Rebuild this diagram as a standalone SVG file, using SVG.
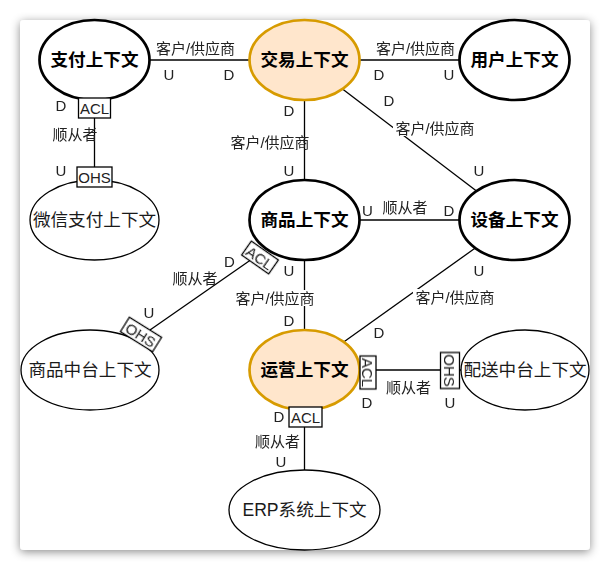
<svg xmlns="http://www.w3.org/2000/svg" width="611" height="571" viewBox="0 0 611 571">
  <defs>
    <filter id="cardShadow" x="-10%" y="-10%" width="120%" height="120%">
      <feDropShadow dx="0" dy="2" stdDeviation="5" flood-color="#000" flood-opacity="0.45"/>
    </filter>
  </defs>
  <style>
    text { text-anchor: middle; dominant-baseline: central; font-family: "Liberation Sans", "Noto Sans CJK SC", sans-serif; }
    .core { fill: #ffffff; stroke: #000000; stroke-width: 2.7; }
    .hot { fill: #ffe6cc; stroke: #d79b00; stroke-width: 2.7; }
    .ext { fill: #ffffff; stroke: #000000; stroke-width: 1.3; }
    .title { font-size: 17.6px; font-weight: bold; fill: #000000; }
    .name { font-size: 17.6px; fill: #1a1a1a; }
    .edge { stroke: #000000; stroke-width: 1.3; fill: none; }
    .box { fill: #ffffff; stroke: #000000; stroke-width: 1.3; }
    .lbl { font-size: 15px; fill: #222222; }
    .bg { fill: #ffffff; }
    .flat { opacity: 0.999; }
  </style>

  <!-- page -->
  <rect x="0" y="0" width="611" height="571" fill="#ffffff"/>
  <rect x="20" y="20" width="570" height="530" rx="4" fill="#ffffff" filter="url(#cardShadow)"/>

  <!-- connectors and their role labels -->
  <g id="connectors" class="flat">
    <line class="edge" x1="149" y1="60" x2="250" y2="60"/>
    <line class="edge" x1="359" y1="60" x2="460" y2="60"/>
    <line class="edge" x1="94.5" y1="100" x2="94.5" y2="180"/>
    <line class="edge" x1="304.5" y1="100" x2="304.5" y2="180"/>
    <line class="edge" x1="342.5" y1="88.9" x2="476.5" y2="191.1"/>
    <line class="edge" x1="359" y1="220" x2="460" y2="220"/>
    <line class="edge" x1="304.5" y1="260" x2="304.5" y2="330"/>
    <line class="edge" x1="475.3" y1="248" x2="343.7" y2="342"/>
    <line class="edge" x1="150" y1="330" x2="252" y2="259"/>
    <line class="edge" x1="358" y1="370" x2="462" y2="370"/>
    <line class="edge" x1="304.5" y1="410" x2="304.5" y2="470"/>

    <!-- 支付 - 交易 -->
    <text class="lbl" x="195.5" y="48">客户/供应商</text>
    <text class="lbl" x="169" y="74">U</text>
    <text class="lbl" x="229" y="74">D</text>

    <!-- 交易 - 用户 -->
    <text class="lbl" x="415.5" y="48">客户/供应商</text>
    <text class="lbl" x="379" y="74">D</text>
    <text class="lbl" x="449" y="74">U</text>

    <!-- 支付 - 微信支付 -->
    <text class="lbl" x="61" y="105">D</text>
    <text class="lbl" x="75" y="134">顺从者</text>
    <text class="lbl" x="61" y="170">U</text>

    <!-- 交易 - 商品 -->
    <text class="lbl" x="289" y="110.5">D</text>
    <text class="lbl" x="270" y="142">客户/供应商</text>
    <text class="lbl" x="289" y="170">U</text>

    <!-- 交易 - 设备 -->
    <text class="lbl" x="389" y="100">D</text>
    <rect class="bg" x="393" y="120" width="84" height="16"/>
    <text class="lbl" x="435" y="128">客户/供应商</text>
    <text class="lbl" x="479" y="170">U</text>

    <!-- 商品 - 设备 -->
    <text class="lbl" x="367.5" y="210">U</text>
    <text class="lbl" x="405" y="207.5">顺从者</text>
    <text class="lbl" x="449" y="210">D</text>

    <!-- 商品 - 运营 -->
    <text class="lbl" x="289" y="270">U</text>
    <rect class="bg" x="233" y="290" width="84" height="16"/>
    <text class="lbl" x="275" y="298">客户/供应商</text>
    <text class="lbl" x="289" y="320">D</text>

    <!-- 设备 - 运营 -->
    <text class="lbl" x="479" y="270">U</text>
    <rect class="bg" x="413" y="289" width="84" height="16"/>
    <text class="lbl" x="455" y="297">客户/供应商</text>
    <text class="lbl" x="379" y="332">D</text>

    <!-- 商品 - 商品中台 -->
    <text class="lbl" x="229.5" y="261">D</text>
    <text class="lbl" x="195" y="278">顺从者</text>
    <text class="lbl" x="149" y="312">U</text>

    <!-- 运营 - 配送中台 -->
    <text class="lbl" x="408.5" y="387">顺从者</text>
    <text class="lbl" x="367" y="402">D</text>
    <text class="lbl" x="450" y="402">U</text>

    <!-- 运营 - ERP -->
    <text class="lbl" x="279" y="416">D</text>
    <text class="lbl" x="277.5" y="441">顺从者</text>
    <text class="lbl" x="281" y="461">U</text>
  </g>

  <!-- bounded contexts -->
  <g id="node-payment">
    <ellipse class="core" cx="94.5" cy="60" rx="55" ry="40"/>
    <text class="title" x="94.5" y="60">支付上下文</text>
  </g>
  <g id="node-trade">
    <ellipse class="hot" cx="304.5" cy="60" rx="55" ry="40"/>
    <text class="title" x="304.5" y="60">交易上下文</text>
  </g>
  <g id="node-user">
    <ellipse class="core" cx="514.5" cy="60" rx="55" ry="40"/>
    <text class="title" x="514.5" y="60">用户上下文</text>
  </g>
  <g id="node-wechat-pay">
    <ellipse class="ext" cx="94.5" cy="220" rx="64.5" ry="40"/>
    <text class="name" x="94.5" y="220">微信支付上下文</text>
  </g>
  <g id="node-product">
    <ellipse class="core" cx="304.5" cy="220" rx="55" ry="40"/>
    <text class="title" x="304.5" y="220">商品上下文</text>
  </g>
  <g id="node-device">
    <ellipse class="core" cx="514.5" cy="220" rx="55" ry="40"/>
    <text class="title" x="514.5" y="220">设备上下文</text>
  </g>
  <g id="node-product-platform">
    <ellipse class="ext" cx="90" cy="370" rx="69" ry="40"/>
    <text class="name" x="90" y="370">商品中台上下文</text>
  </g>
  <g id="node-operation">
    <ellipse class="hot" cx="304.5" cy="370" rx="55" ry="40"/>
    <text class="title" x="304.5" y="370">运营上下文</text>
  </g>
  <g id="node-delivery-platform">
    <ellipse class="ext" cx="525" cy="370" rx="64" ry="40"/>
    <text class="name" x="525" y="370">配送中台上下文</text>
  </g>
  <g id="node-erp">
    <ellipse class="ext" cx="304.5" cy="510" rx="75.5" ry="40"/>
    <text class="name" x="304.5" y="510">ERP系统上下文</text>
  </g>

  <!-- ACL / OHS adapters drawn over the context borders -->
  <g id="adapters" class="flat">
    <rect class="box" x="78.5" y="98" width="32" height="20"/>
    <text class="lbl" x="94.5" y="108">ACL</text>
    <rect class="box" x="77" y="167" width="35" height="20"/>
    <text class="lbl" x="94.5" y="177">OHS</text>
    <g transform="translate(260 257.5) rotate(35)">
      <rect class="box" x="-16.5" y="-8.5" width="33" height="17"/>
      <text class="lbl" x="0" y="0">ACL</text>
    </g>
    <g transform="translate(141 334.5) rotate(32)">
      <rect class="box" x="-19" y="-8.5" width="38" height="17"/>
      <text class="lbl" x="0" y="0">OHS</text>
    </g>
    <g transform="translate(368 372.5) rotate(90)">
      <rect class="box" x="-16.5" y="-8" width="33" height="16"/>
      <text class="lbl" x="0" y="0">ACL</text>
    </g>
    <g transform="translate(450 370.5) rotate(90)">
      <rect class="box" x="-18" y="-9.5" width="36" height="19"/>
      <text class="lbl" x="0" y="0">OHS</text>
    </g>
    <rect class="box" x="289" y="407" width="33" height="20"/>
    <text class="lbl" x="305.5" y="417">ACL</text>
  </g>
</svg>
